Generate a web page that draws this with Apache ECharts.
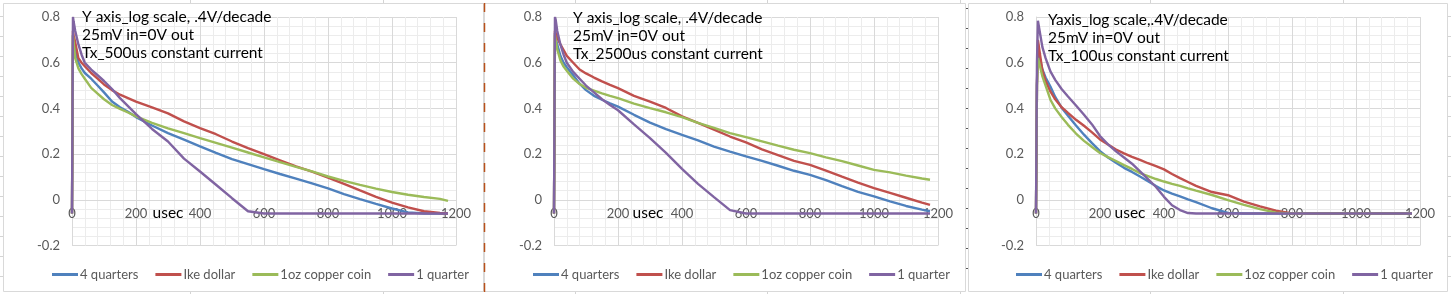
<!DOCTYPE html>
<html><head><meta charset="utf-8">
<script src="https://cdn.jsdelivr.net/npm/echarts@6/dist/echarts.min.js"></script>
<style>html,body{margin:0;padding:0;background:#fff;}#c{width:1451px;height:294px;}</style>
</head><body><div id="c"></div>
<script>
// ---------- DATA ----------
const seriesNames = ['4 quarters', 'Ike dollar', '1oz copper coin', '1 quarter'];
const xTickValues = [0, 200, 400, 600, 800, 1000, 1200];
const yTickValues = [-0.2, 0, 0.2, 0.4, 0.6, 0.8];

// time (usec) for panels 1 and 2
const timeA = [0, 3, 5, 10, 20, 30, 40, 60, 80, 100, 125, 150, 175, 200, 250, 300, 350, 400, 450, 500, 550, 600, 650, 700, 750, 800, 850, 900, 950, 1000, 1050, 1100, 1150, 1175];
// panel 1: Tx 500us
const p1FourQuarters = [-0.06, 0.72, 0.70, 0.66, 0.6, 0.575, 0.555, 0.53, 0.5, 0.47, 0.43, 0.405, 0.385, 0.362, 0.325, 0.292, 0.263, 0.234, 0.205, 0.178, 0.156, 0.134, 0.113, 0.093, 0.072, 0.05, 0.025, 0.003, -0.018, -0.038, -0.055, -0.06, -0.06, -0.06];
const p1IkeDollar = [-0.06, 0.74, 0.72, 0.69, 0.62, 0.6, 0.585, 0.555, 0.53, 0.505, 0.48, 0.46, 0.445, 0.43, 0.405, 0.378, 0.343, 0.314, 0.287, 0.255, 0.226, 0.2, 0.173, 0.146, 0.123, 0.097, 0.07, 0.041, 0.013, -0.012, -0.033, -0.05, -0.058, -0.06];
const p1CopperCoin = [-0.06, 0.72, 0.69, 0.62, 0.575, 0.55, 0.53, 0.49, 0.465, 0.44, 0.415, 0.398, 0.382, 0.365, 0.337, 0.313, 0.292, 0.27, 0.249, 0.228, 0.207, 0.186, 0.165, 0.144, 0.124, 0.102, 0.083, 0.065, 0.049, 0.034, 0.022, 0.012, 0.004, -0.005];
const p1OneQuarter = [-0.06, 0.8, 0.78, 0.74, 0.68, 0.635, 0.6, 0.57, 0.545, 0.52, 0.485, 0.445, 0.41, 0.375, 0.31, 0.255, 0.18, 0.124, 0.066, 0.007, -0.05, -0.06, -0.06, -0.06, -0.06, -0.06, -0.06, -0.06, -0.06, -0.06, -0.06, -0.06, -0.06, -0.06];
// panel 2: Tx 2500us
const p2FourQuarters = [-0.06, 0.73, 0.71, 0.68, 0.63, 0.6, 0.58, 0.545, 0.508, 0.48, 0.455, 0.438, 0.422, 0.408, 0.372, 0.338, 0.309, 0.284, 0.26, 0.233, 0.211, 0.19, 0.17, 0.149, 0.127, 0.109, 0.086, 0.06, 0.035, 0.015, -0.007, -0.027, -0.043, -0.05];
const p2IkeDollar = [-0.06, 0.74, 0.73, 0.71, 0.68, 0.655, 0.63, 0.6, 0.57, 0.553, 0.535, 0.518, 0.503, 0.489, 0.455, 0.43, 0.402, 0.365, 0.337, 0.307, 0.277, 0.251, 0.221, 0.196, 0.17, 0.153, 0.128, 0.101, 0.075, 0.051, 0.03, 0.009, -0.012, -0.022];
const p2CopperCoin = [-0.06, 0.72, 0.7, 0.66, 0.61, 0.583, 0.565, 0.53, 0.507, 0.49, 0.478, 0.466, 0.455, 0.445, 0.421, 0.401, 0.383, 0.362, 0.337, 0.315, 0.292, 0.274, 0.256, 0.237, 0.219, 0.204, 0.186, 0.169, 0.15, 0.131, 0.12, 0.106, 0.093, 0.088];
const p2OneQuarter = [-0.06, 0.8, 0.79, 0.74, 0.68, 0.635, 0.6, 0.56, 0.53, 0.5, 0.47, 0.44, 0.415, 0.392, 0.33, 0.27, 0.205, 0.135, 0.07, 0.012, -0.045, -0.06, -0.06, -0.06, -0.06, -0.06, -0.06, -0.06, -0.06, -0.06, -0.06, -0.06, -0.06, -0.06];
// panel 3: Tx 100us
const timeB = [0, 3, 6, 10, 20, 30, 45, 60, 80, 100, 125, 150, 175, 200, 225, 250, 275, 300, 325, 350, 375, 400, 425, 450, 475, 500, 550, 600, 650, 700, 750, 800, 900, 1000, 1100, 1175];
const p3FourQuarters = [-0.06, 0.5, 0.66, 0.63, 0.57, 0.535, 0.496, 0.45, 0.403, 0.368, 0.325, 0.285, 0.248, 0.213, 0.185, 0.162, 0.14, 0.122, 0.102, 0.081, 0.06, 0.041, 0.027, 0.015, 0.002, -0.01, -0.037, -0.057, -0.06, -0.06, -0.06, -0.06, -0.06, -0.06, -0.06, -0.06];
const p3IkeDollar = [-0.06, 0.5, 0.7, 0.66, 0.565, 0.52, 0.474, 0.44, 0.405, 0.38, 0.35, 0.324, 0.295, 0.264, 0.242, 0.22, 0.203, 0.188, 0.175, 0.16, 0.147, 0.133, 0.113, 0.095, 0.078, 0.061, 0.034, 0.02, -0.008, -0.029, -0.048, -0.06, -0.06, -0.06, -0.06, -0.06];
const p3CopperCoin = [-0.06, 0.5, 0.62, 0.6, 0.54, 0.5, 0.438, 0.4, 0.362, 0.328, 0.29, 0.258, 0.231, 0.205, 0.187, 0.17, 0.152, 0.135, 0.117, 0.104, 0.091, 0.08, 0.07, 0.061, 0.05, 0.04, 0.021, -0.001, -0.022, -0.041, -0.056, -0.06, -0.06, -0.06, -0.06, -0.06];
const p3OneQuarter = [-0.06, 0.6, 0.784, 0.75, 0.668, 0.62, 0.562, 0.525, 0.485, 0.452, 0.413, 0.372, 0.33, 0.279, 0.243, 0.212, 0.185, 0.158, 0.124, 0.09, 0.056, 0.013, -0.024, -0.045, -0.058, -0.06, -0.06, -0.06, -0.06, -0.06, -0.06, -0.06, -0.06, -0.06, -0.06, -0.06];

const annotations = [
  ['Y axis_log scale, .4V/decade', '25mV in=0V out', 'Tx_500us constant current'],
  ['Y axis_log scale, .4V/decade', '25mV in=0V out', 'Tx_2500us constant current'],
  ['Yaxis_log scale,.4V/decade', '25mV in=0V out', 'Tx_100us constant current']
];
const xAxisTitle = 'usec';

// ---------- LAYOUT / STYLE ----------
const colors = ['#4F81BD', '#C0504D', '#9BBB59', '#8064A2'];
const FONT = 'Lato';
const GRID_TOP = 17, GRID_H = 228.5;
const zeroOffset = -GRID_H * (0 - yTickValues[0]) / (yTickValues[yTickValues.length - 1] - yTickValues[0]);
const panels = [
  { time: timeA, vals: [p1FourQuarters, p1IkeDollar, p1CopperCoin, p1OneQuarter], grid: 72, box: [3, 483], text: 82, textY: 17, usec: 168, legend: 47 },
  { time: timeA, vals: [p2FourQuarters, p2IkeDollar, p2CopperCoin, p2OneQuarter], grid: 554, box: [484, 965], text: 573, textY: 18, usec: 648, legend: 528 },
  { time: timeB, vals: [p3FourQuarters, p3IkeDollar, p3CopperCoin, p3OneQuarter], grid: 1036, box: [968, 1447], text: 1048, textY: 19.5, usec: 1130, legend: 1011 }
];

const grids = [], xAxes = [], yAxes = [], series = [], legends = [], graphics = [];
panels.forEach((p, i) => {
  grids.push({ left: p.grid, top: GRID_TOP, width: 384, height: GRID_H });
  xAxes.push({
    type: 'value', gridIndex: i, position: 'bottom', offset: zeroOffset,
    min: xTickValues[0], max: xTickValues[xTickValues.length - 1], interval: 200,
    axisLine: { show: true, onZero: false, lineStyle: { color: '#d9d9d9', width: 1 } },
    axisTick: { show: false },
    axisLabel: { color: '#595959', fontSize: 13, fontFamily: FONT, margin: 8, formatter: v => String(v) },
    splitLine: { show: true, lineStyle: { color: '#d9d9d9' } },
    minorTick: { show: false, splitNumber: 5 },
    minorSplitLine: { show: true, lineStyle: { color: '#ececec' } }
  });
  yAxes.push({
    type: 'value', gridIndex: i, min: yTickValues[0], max: yTickValues[yTickValues.length - 1], interval: 0.2,
    axisLine: { show: true, onZero: false, lineStyle: { color: '#d9d9d9' } },
    axisTick: { show: false },
    axisLabel: { color: '#595959', fontSize: 13, fontFamily: FONT, margin: 12 },
    splitLine: { show: true, lineStyle: { color: '#d9d9d9' } },
    minorTick: { show: false, splitNumber: 5 },
    minorSplitLine: { show: true, lineStyle: { color: '#ececec' } }
  });
  seriesNames.forEach((name, j) => {
    series.push({
      type: 'line', name: name, xAxisIndex: i, yAxisIndex: i,
      data: p.time.map((t, k) => [t, p.vals[j][k]]),
      symbol: 'none', smooth: false, animation: false,
      lineStyle: { color: colors[j], width: 2.4 }, itemStyle: { color: colors[j] }
    });
  });
  legends.push({
    data: seriesNames, left: p.legend, top: 263, icon: 'rect', itemWidth: 26, itemHeight: 3, itemGap: 17,
    textStyle: { color: '#595959', fontSize: 13, fontFamily: FONT, padding: [0, 0, 0, -3] }
  });
  graphics.push({ type: 'rect', shape: { x: p.box[0] + 0.5, y: 3.5, width: p.box[1] - p.box[0], height: 288 },
    style: { fill: 'none', stroke: '#d9d9d9', lineWidth: 1 }, z: -1 });
  annotations[i].forEach((line, k) => {
    graphics.push({ type: 'text', x: p.text, y: p.textY + k * 18, z: 100,
      style: { text: line, fill: '#000', font: '15.5px ' + FONT, verticalAlign: 'middle', textAlign: 'left' } });
  });
  graphics.push({ type: 'text', x: p.usec, y: 213, z: 100,
    style: { text: xAxisTitle, fill: '#000', font: '15.5px ' + FONT, verticalAlign: 'middle', textAlign: 'center' } });
});

// spreadsheet cell lines peeking out around the charts
[190, 383, 575, 767, 960, 1150, 1343].forEach(x => {
  graphics.push({ type: 'line', shape: { x1: x + 0.5, y1: 0, x2: x + 0.5, y2: 3 }, style: { stroke: '#d4d4d4' } });
  graphics.push({ type: 'line', shape: { x1: x + 0.5, y1: 292, x2: x + 0.5, y2: 294 }, style: { stroke: '#d4d4d4' } });
});
for (let y = 16; y < 294; y += 20) {
  graphics.push({ type: 'line', shape: { x1: 0, y1: y + 0.5, x2: 3, y2: y + 0.5 }, style: { stroke: '#d4d4d4' } });
  graphics.push({ type: 'line', shape: { x1: 1448, y1: y + 0.5, x2: 1451, y2: y + 0.5 }, style: { stroke: '#d4d4d4' } });
  graphics.push({ type: 'line', shape: { x1: 966, y1: y - 8 + 0.5, x2: 968, y2: y - 8 + 0.5 }, style: { stroke: '#555' } });
}
graphics.push({ type: 'line', shape: { x1: 484.5, y1: 3, x2: 484.5, y2: 294 },
  style: { stroke: '#B8501A', lineWidth: 1.5, lineDash: [9, 11] }, z: 50 });

const chart = echarts.init(document.getElementById('c'), null, { renderer: 'canvas' });
chart.setOption({
  animation: false,
  backgroundColor: '#fff',
  grid: grids, xAxis: xAxes, yAxis: yAxes, series: series, legend: legends,
  graphic: { elements: graphics }
});
</script></body></html>
